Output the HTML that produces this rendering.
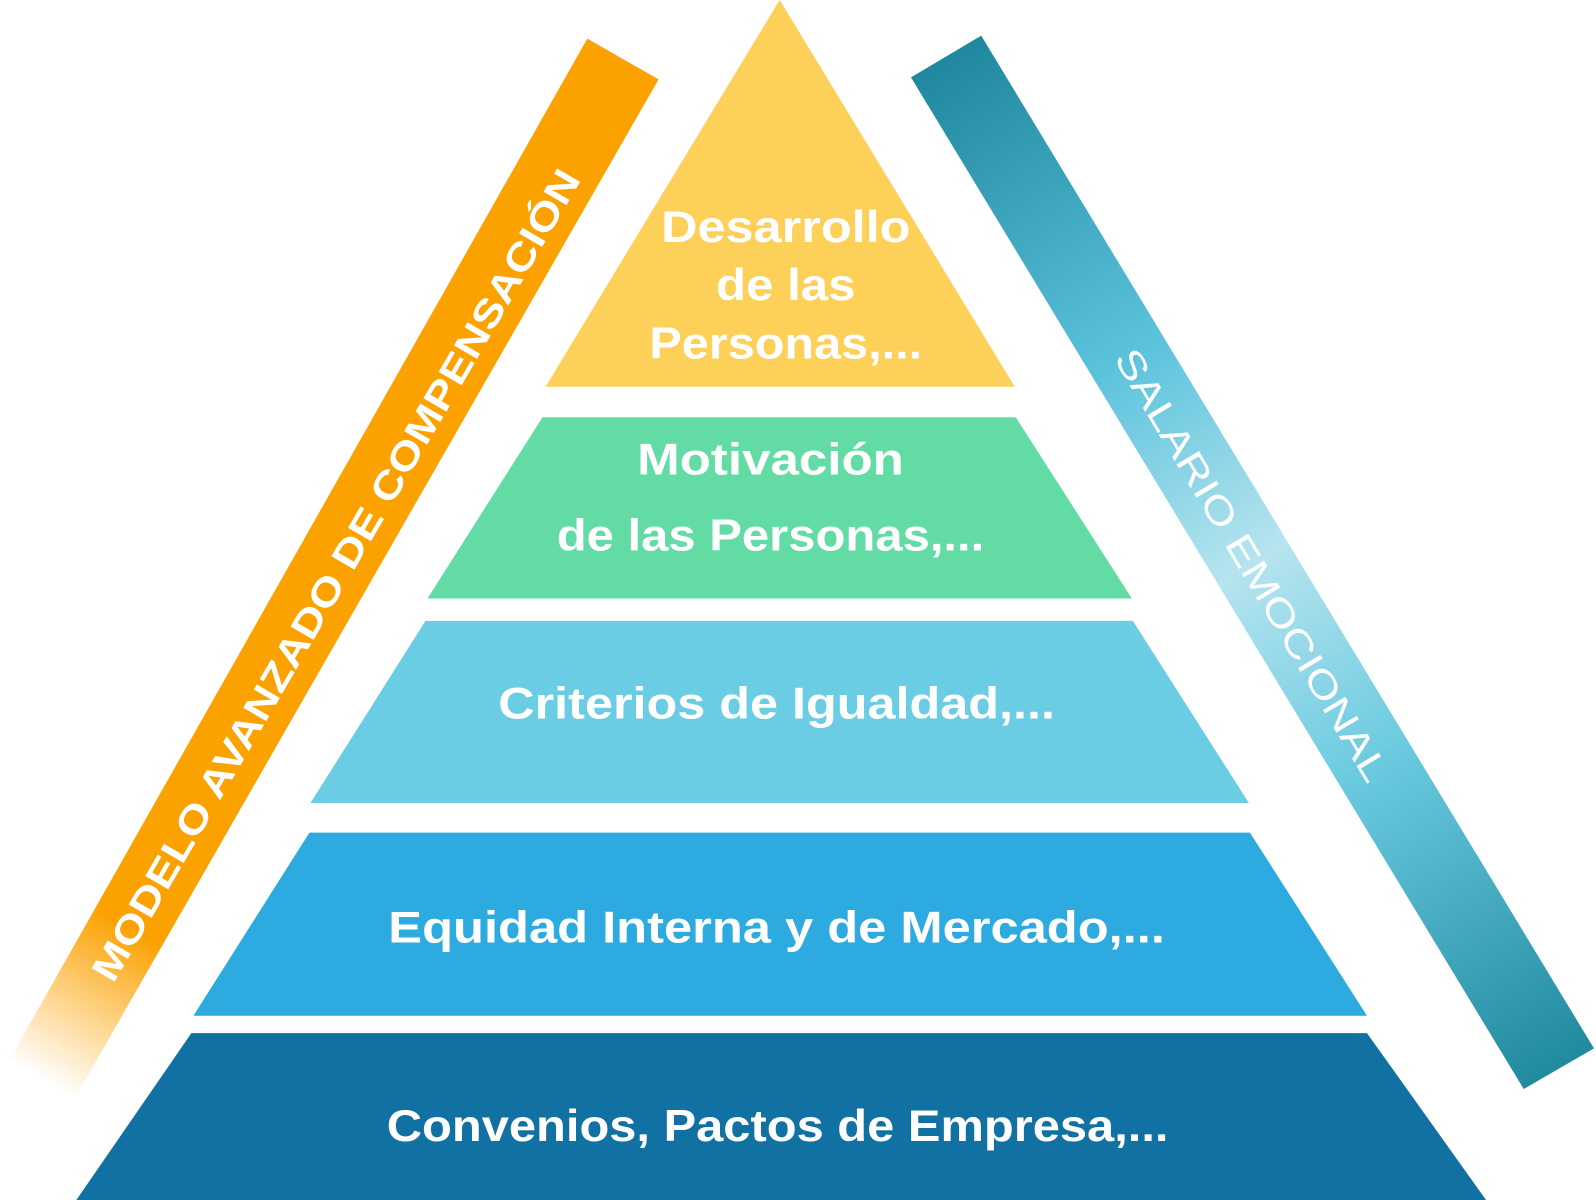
<!DOCTYPE html>
<html><head><meta charset="utf-8"><style>html,body{margin:0;padding:0;background:#fff;}svg{display:block}</style></head>
<body>
<svg width="1596" height="1200" viewBox="0 0 1568 1179" preserveAspectRatio="none" xmlns="http://www.w3.org/2000/svg">
<defs>
<linearGradient id="og" gradientUnits="userSpaceOnUse" x1="612" y1="58" x2="40" y2="1060">
<stop offset="0" stop-color="#FBA100"/>
<stop offset="0.85" stop-color="#FBA100"/>
<stop offset="1" stop-color="#FBA100" stop-opacity="0"/>
</linearGradient>
<linearGradient id="tg" gradientUnits="userSpaceOnUse" x1="930" y1="55" x2="1530" y2="1050">
<stop offset="0" stop-color="#1F879E"/>
<stop offset="0.3" stop-color="#5CC3DC"/>
<stop offset="0.5" stop-color="#B6E4EF"/>
<stop offset="0.7" stop-color="#6BCAE0"/>
<stop offset="1" stop-color="#208A9E"/>
</linearGradient>
</defs>
<polygon points="577,38 647,78 70,1085 10,1040" fill="url(#og)"/>
<polygon points="895,76 964,35 1566,1030 1497,1070" fill="url(#tg)"/>
<polygon points="766,0 997,380 536,380" fill="#FDD05A"/>
<polygon points="533,410 998,410 1112,588 420,588" fill="#62DBA4"/>
<polygon points="418,610 1113,610 1227,789 305,789" fill="#6BCDE3"/>
<polygon points="304,818 1228,818 1343,998 190,998" fill="#2DAADF"/>
<polygon points="188,1015 1343,1015 1460,1179 75,1179" fill="#1271A3"/>
<g font-family="Liberation Sans, sans-serif" font-weight="bold" fill="#fff" text-anchor="middle" font-size="44">
<text x="772" y="238" textLength="245" lengthAdjust="spacingAndGlyphs">Desarrollo</text>
<text x="772" y="295" textLength="137" lengthAdjust="spacingAndGlyphs">de las</text>
<text x="772" y="352" textLength="268" lengthAdjust="spacingAndGlyphs">Personas,...</text>
<text x="757" y="466" textLength="262" lengthAdjust="spacingAndGlyphs">Motivación</text>
<text x="757" y="541" textLength="420" lengthAdjust="spacingAndGlyphs">de las Personas,...</text>
<text x="763" y="706" textLength="547" lengthAdjust="spacingAndGlyphs">Criterios de Igualdad,...</text>
<text x="763" y="926" textLength="763" lengthAdjust="spacingAndGlyphs">Equidad Interna y de Mercado,...</text>
<text x="764" y="1121" textLength="768" lengthAdjust="spacingAndGlyphs">Convenios, Pactos de Empresa,...</text>
</g>
<text transform="translate(330,565) rotate(-59.8)" x="0" y="13" font-family="Liberation Sans, sans-serif" font-weight="bold" font-size="38" fill="#fff" text-anchor="middle" textLength="915" lengthAdjust="spacingAndGlyphs">MODELO AVANZADO DE  COMPENSACIÓN</text>
<text transform="translate(1230,555) rotate(59.2)" x="0" y="13" font-family="Liberation Sans, sans-serif" font-size="37" fill="#fff" text-anchor="middle" textLength="488" lengthAdjust="spacingAndGlyphs">SALARIO EMOCIONAL</text>
</svg>
</body></html>
